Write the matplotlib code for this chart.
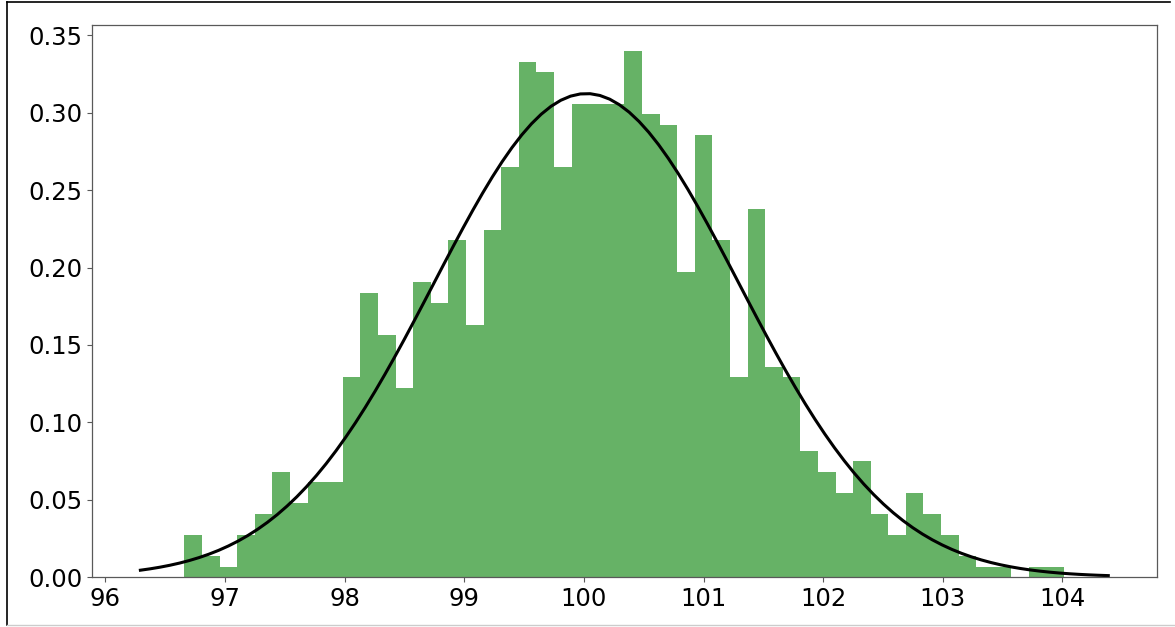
import numpy as np
import matplotlib
matplotlib.use("Agg")
import matplotlib.pyplot as plt
from matplotlib.lines import Line2D

# Histogram of 1000 measurements: 50 equal-width bins between these limits
bin_lo, bin_hi = 96.66, 104.015
counts = [4, 2, 1, 4, 6, 10, 7, 9, 9, 19,
          27, 23, 18, 28, 26, 32, 24, 33, 39, 49,
          48, 39, 45, 45, 45, 50, 44, 43, 29, 42,
          32, 19, 35, 20, 19, 12, 10, 8, 11, 6,
          4, 8, 6, 4, 2, 1, 1, 0, 1, 1]

# Fitted normal distribution
mu, sigma = 100.02, 1.277

edges = np.linspace(bin_lo, bin_hi, len(counts) + 1)
centers = 0.5 * (edges[:-1] + edges[1:])

fig = plt.figure(figsize=(11.75, 6.27), dpi=100)
ax = fig.add_axes([0.0783, 0.0797, 0.9061, 0.8809])

ax.hist(centers, bins=edges, weights=counts, density=True, alpha=0.6, color='g')

xmin, xmax = ax.get_xlim()
x = np.linspace(xmin, xmax, 100)
pdf = np.exp(-0.5 * ((x - mu) / sigma) ** 2) / (sigma * np.sqrt(2 * np.pi))
ax.plot(x, pdf, 'k', linewidth=2.2)

ax.tick_params(labelsize=17.5, colors='black')
for sp in ax.spines.values():
    sp.set_color('0.35')
    sp.set_linewidth(0.9)
ax.tick_params(color='0.35')

# Frame around the figure
W, H = 1175, 627
fig.add_artist(Line2D([7 / W, 1170 / W], [1 - 2 / H, 1 - 2 / H], color='black', lw=1.2, transform=fig.transFigure))
fig.add_artist(Line2D([7 / W, 7 / W], [1 - 2 / H, 1 - 625 / H], color='black', lw=1.2, transform=fig.transFigure))
fig.add_artist(Line2D([7 / W, 1175 / W], [1 - 625 / H, 1 - 625 / H], color='0.8', lw=1.0, transform=fig.transFigure))

fig.savefig("out.png", dpi=100)
